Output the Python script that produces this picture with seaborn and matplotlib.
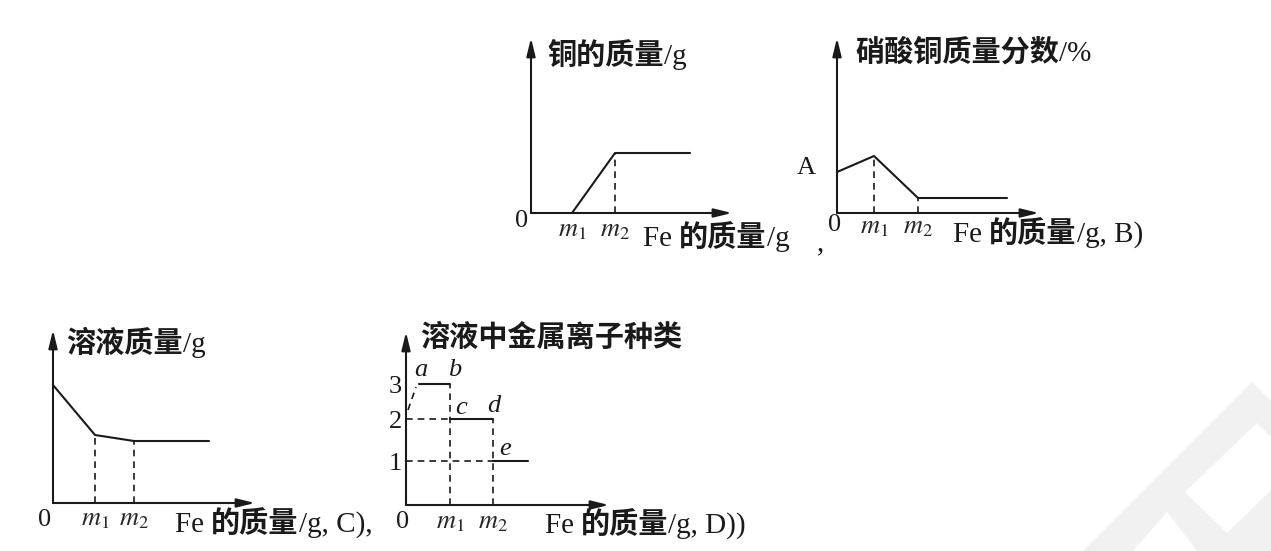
import matplotlib
matplotlib.use('Agg')
import matplotlib.pyplot as plt
from matplotlib.transforms import offset_copy
import seaborn as sns

sns.set_theme(style='white')
plt.rcParams['font.family'] = ['Liberation Serif', 'Noto Sans CJK SC']
plt.rcParams['mathtext.fontset'] = 'stix'

W, H = 1271, 551
U = 40  # 每个数据单位的像素

# A 铜的质量
a_x = [1.025, 2.1, 3.975]
a_y = [0, 1.5, 1.5]
a_m = [1.025, 2.1]

# B 硝酸铜质量分数
b_x = [0, 0.925, 2.025, 4.25]
b_y = [1.025, 1.425, 0.375, 0.375]
b_m = [0.925, 2.025]

# C 溶液质量
c_x = [0, 1.05, 2.025, 3.9]
c_y = [2.95, 1.7, 1.55, 1.55]
c_m = [1.05, 2.025]

# D 溶液中金属离子种类
d_levels = [1.1, 2.15, 3.03]
d_level_labels = ['1', '2', '3']
d_m = [1.1, 2.175]
d_a_start = 0.33
d_end = 3.05
d_ramp_x = [0.05, 0.25]
d_ramp_y = [2.375, 2.95]
d_pt_names = ['a', 'b', 'c', 'd', 'e']
d_pt_x = [0.375, 1.22, 1.375, 2.2, 2.475]
d_pt_y = [3.375, 3.375, 2.43, 2.48, 1.4]

FS = 21
DASH = (0, (4, 3))

fig = plt.figure(figsize=(W / 100, H / 100), dpi=100)
fig.patch.set_facecolor('white')
renderer = fig.canvas.get_renderer()

# 背景水印
bg = fig.add_axes([0, 0, 1, 1], zorder=-1)
bg.set_xlim(0, W)
bg.set_ylim(H, 0)
bg.axis('off')
bg.fill([1083, 1252, 1271, 1271], [551, 382, 401, 551], color='#f1f1f1', lw=0)
bg.fill([1257, 1185, 1227, 1271, 1271], [423, 492, 533, 490, 437], color='white', lw=0)
bg.fill([1133, 1167, 1197], [551, 512, 551], color='white', lw=0)


def make_axes(l, t, r, b):
    ax = fig.add_axes([l / W, 1 - b / H, (r - l) / W, (b - t) / H])
    ax.set_xlim(0, (r - l) / U)
    ax.set_ylim(0, (b - t) / U)
    ax.axis('off')
    ap = dict(arrowstyle='-|>,head_length=0.9,head_width=0.22', lw=1.5, color='k',
              mutation_scale=12, shrinkA=0, shrinkB=0)
    ax.annotate('', xy=(1, 0), xytext=(0, 0), xycoords='axes fraction', arrowprops=ap)
    ax.annotate('', xy=(0, 1), xytext=(0, 0), xycoords='axes fraction', arrowprops=ap)
    return ax


def split_runs(s):
    runs = []
    for ch in s:
        cjk = ord(ch) > 0x2E80
        if runs and runs[-1][1] == cjk:
            runs[-1][0] += ch
        else:
            runs.append([ch, cjk])
    return runs


def txt(ax, x, y, s, size=FS):
    # 中文用粗黑体, 西文用衬线体, 依次排在同一基线上
    dx = 0
    for piece, cjk in split_runs(s):
        tr = offset_copy(ax.transData, fig=fig, x=dx, y=0, units='dots')
        if cjk:
            t = ax.text(x, y - 0.22, piece, transform=tr, ha='left', va='baseline',
                        fontsize=size, family=['Noto Sans CJK SC'], weight='bold',
                        color='k', clip_on=False)
        else:
            t = ax.text(x, y - 0.22, piece, transform=tr, ha='left', va='baseline',
                        fontsize=size, family=['Liberation Serif'], color='k', clip_on=False)
        dx += t.get_window_extent(renderer).width


def ctxt(ax, x, y, s, size=19, **kw):
    ax.text(x, y, s, ha='center', va='center', fontsize=size, family=['Liberation Serif'],
            color='k', clip_on=False, **kw)


def m_labels(ax, ms, y):
    for i, m in enumerate(ms):
        ax.text(m, y, '$m_{%d}$' % (i + 1), ha='center', va='center', fontsize=19, clip_on=False)


def solid(ax, x, y):
    sns.lineplot(x=x, y=y, ax=ax, color='k', lw=1.5, sort=False, estimator=None, clip_on=False)


def dashed(ax, x, y):
    ax.plot(x, y, color='k', lw=1.2, linestyle=DASH, clip_on=False)


# ---- A ----
ax = make_axes(531, 38, 732, 213)
solid(ax, a_x, a_y)
dashed(ax, [a_m[1], a_m[1]], [0, a_y[1]])
txt(ax, 0.42, 3.95, '铜的质量/g')
ctxt(ax, -0.23, -0.2, '0')
m_labels(ax, a_m, -0.45)
txt(ax, 2.8, -0.6, 'Fe 的质量/g')
txt(ax, 7.15, -0.72, ',')

# ---- B ----
ax = make_axes(837, 38, 1039, 213)
solid(ax, b_x, b_y)
dashed(ax, [b_m[0], b_m[0]], [0, b_y[1]])
dashed(ax, [b_m[1], b_m[1]], [0, b_y[2]])
txt(ax, 0.45, 4.02, '硝酸铜质量分数/%')
ctxt(ax, -0.78, 1.12, 'A')
ctxt(ax, -0.05, -0.3, '0')
m_labels(ax, b_m, -0.38)
txt(ax, 2.9, -0.5, 'Fe 的质量/g, B)')

# ---- C ----
ax = make_axes(53, 330, 255, 503)
solid(ax, c_x, c_y)
dashed(ax, [c_m[0], c_m[0]], [0, c_y[1]])
dashed(ax, [c_m[1], c_m[1]], [0, c_y[2]])
txt(ax, 0.33, 4.0, '溶液质量/g')
ctxt(ax, -0.2, -0.42, '0')
m_labels(ax, c_m, -0.42)
txt(ax, 3.05, -0.5, 'Fe 的质量/g, C),')

# ---- D ----
ax = make_axes(406, 332, 609, 505)
l1, l2, l3 = d_levels
solid(ax, [d_a_start, d_m[0]], [l3, l3])
solid(ax, [d_m[0], d_m[1]], [l2, l2])
solid(ax, [d_m[1], d_end], [l1, l1])
dashed(ax, d_ramp_x, d_ramp_y)
dashed(ax, [d_m[0], d_m[0]], [0, l3])
dashed(ax, [d_m[1], d_m[1]], [0, l2])
dashed(ax, [0, d_m[0]], [l2, l2])
dashed(ax, [0, d_m[1]], [l1, l1])
for lv, lb in zip(d_levels, d_level_labels):
    ctxt(ax, -0.27, lv - 0.08, lb)
for n, px, py in zip(d_pt_names, d_pt_x, d_pt_y):
    ctxt(ax, px, py, n, size=19, style='italic')
txt(ax, 0.35, 4.2, '溶液中金属离子种类')
ctxt(ax, -0.08, -0.42, '0')
m_labels(ax, d_m, -0.45)
txt(ax, 3.47, -0.47, 'Fe 的质量/g, D))')

fig.savefig('out.png', dpi=100, facecolor='white')
